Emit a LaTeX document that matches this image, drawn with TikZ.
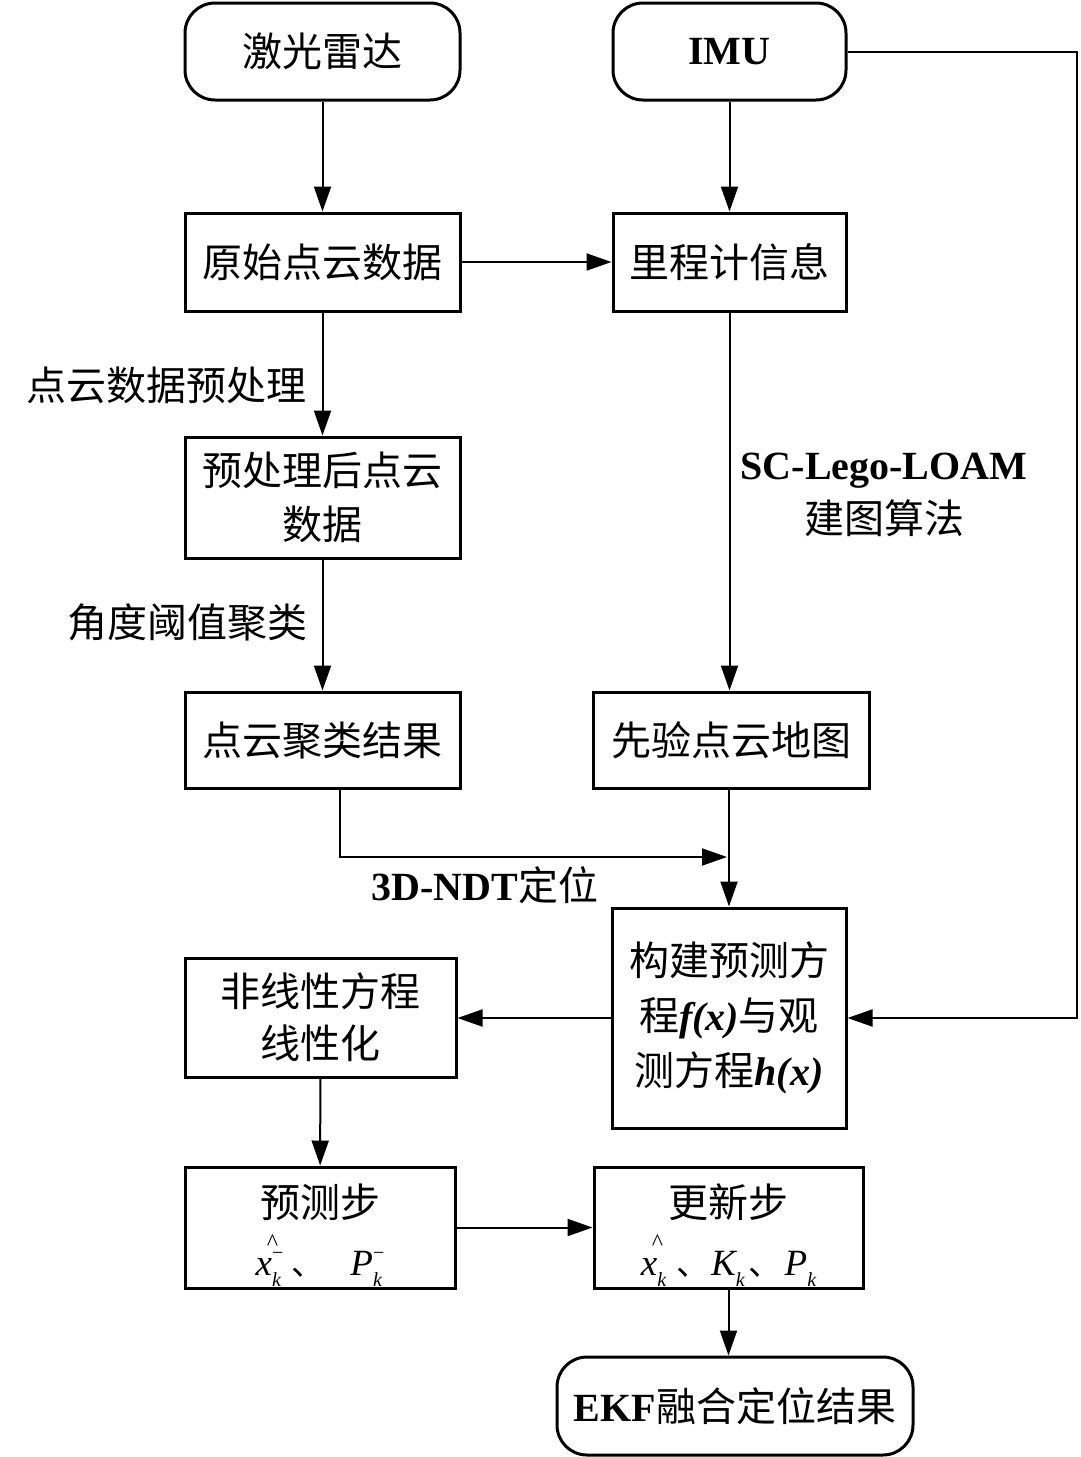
\documentclass[tikz,border=0pt]{standalone}
\usepackage{fontspec}
\setmainfont{Noto Sans CJK SC}
\newfontfamily\tnr{Liberation Serif}
\usetikzlibrary{arrows.meta}
\newcommand\mth{\fontsize{37}{44}\selectfont\tnr\itshape}
\newcommand\cjkm{\fontsize{33}{40}\selectfont}
\newcommand\hatx{\rlap{\hspace{0.3em}\raisebox{25pt}{\fontsize{24}{24}\selectfont\upshape\textasciicircum}}x}
\newcommand\sbsp[2]{\rlap{\raisebox{-11pt}{\fontsize{20}{20}\selectfont #1}}\raisebox{16pt}{\fontsize{20}{20}\selectfont\upshape #2}}
\newcommand\sbonly[1]{\raisebox{-11pt}{\fontsize{20}{20}\selectfont #1}}
\begin{document}
\begin{tikzpicture}[x=1pt,y=-1pt,
  box/.style={draw,line width=3pt,inner sep=0pt,align=center,font=\fontsize{40}{54}\selectfont},
  term/.style={box,rounded corners=30pt},
  lbl/.style={inner sep=0pt,align=center,font=\fontsize{40}{54}\selectfont},
  arr/.style={line width=2pt,-{Triangle[length=25pt,width=17pt]}}]
\useasboundingbox (0,0) rectangle (1080,1457);
\node[term,minimum width=275pt,minimum height=97pt] (lidar) at (322.5,51.5) {激光雷达};
\node[term,minimum width=233pt,minimum height=97pt] (imu) at (729.5,51.5) {\tnr\bfseries IMU};
\node[box,minimum width=275pt,minimum height=98pt] (raw) at (322.5,262) {原始点云数据};
\node[box,minimum width=233pt,minimum height=98pt] (odo) at (729.5,262) {里程计信息};
\node[box,minimum width=275pt,minimum height=121pt] (pre) at (322.5,497.5) {预处理后点云\\数据};
\node[box,minimum width=275pt,minimum height=96pt] (clu) at (322.5,740) {点云聚类结果};
\node[box,minimum width=276pt,minimum height=96pt] (map) at (731,740) {先验点云地图};
\node[box,minimum width=234pt,minimum height=220pt,font=\fontsize{40}{55}\selectfont] (build) at (729,1018)
  {构建预测方\\程{\tnr\bfseries\itshape f(x)}与观\\测方程{\tnr\bfseries\itshape h(x)}};
\node[box,minimum width=271pt,minimum height=119pt,font=\fontsize{40}{52}\selectfont] (nonlin) at (320.5,1017.5) {非线性方程\\线性化};
\node[box,minimum width=270pt,minimum height=121pt] (pred) at (320,1227.5)
  {\rule{0pt}{48pt}预测步\\[4pt]{\mth\hatx\sbsp{k}{−}}\hspace{8pt}{\cjkm 、}\hspace{26pt}{\mth P\sbsp{k}{−}}};
\node[box,minimum width=269pt,minimum height=121pt] (upd) at (728.5,1227.5)
  {\rule{0pt}{48pt}更新步\\[4pt]{\mth\hatx\sbonly{k}}\hspace{10pt}{\cjkm 、}\hspace{2pt}{\mth K\sbonly{k}}\hspace{4pt}{\cjkm 、}\hspace{3pt}{\mth P\sbonly{k}}};
\node[term,minimum width=356pt,minimum height=98pt] (ekf) at (735,1406) {{\tnr\bfseries EKF}融合定位结果};
\node[lbl] (lpre) at (167,385) {点云数据预处理};
\node[lbl] (lclu) at (187,622) {角度阈值聚类};
\node[lbl] (lsc) at (884,495) {{\tnr\bfseries SC-Lego-LOAM}\\建图算法};
\node[lbl] (lndt) at (485,885) {{\tnr\bfseries 3D-NDT}定位};
\coordinate (ndtend) at (727,857);
\coordinate (loop) at (1077,1018);
\draw[arr] (lidar) -- (raw);
\draw[arr] (imu) -- (odo);
\draw[arr] (raw) -- (odo);
\draw[arr] (raw) -- (pre);
\draw[arr] (pre) -- (clu);
\draw[arr] (odo.south) -- (odo.south |- map.north);
\draw[arr] ([xshift=17.5pt]clu.south) |- (ndtend);
\draw[arr] (build.north |- map.south) -- (build.north);
\draw[arr] (imu.east) -| (loop) -- (build.east);
\draw[arr] (build.west) -- (build.west -| nonlin.east);
\draw[arr] (nonlin) -- (pred);
\draw[arr] (pred) -- (upd);
\draw[arr] (upd.south) -- (upd.south |- ekf.north);
\end{tikzpicture}
\end{document}
